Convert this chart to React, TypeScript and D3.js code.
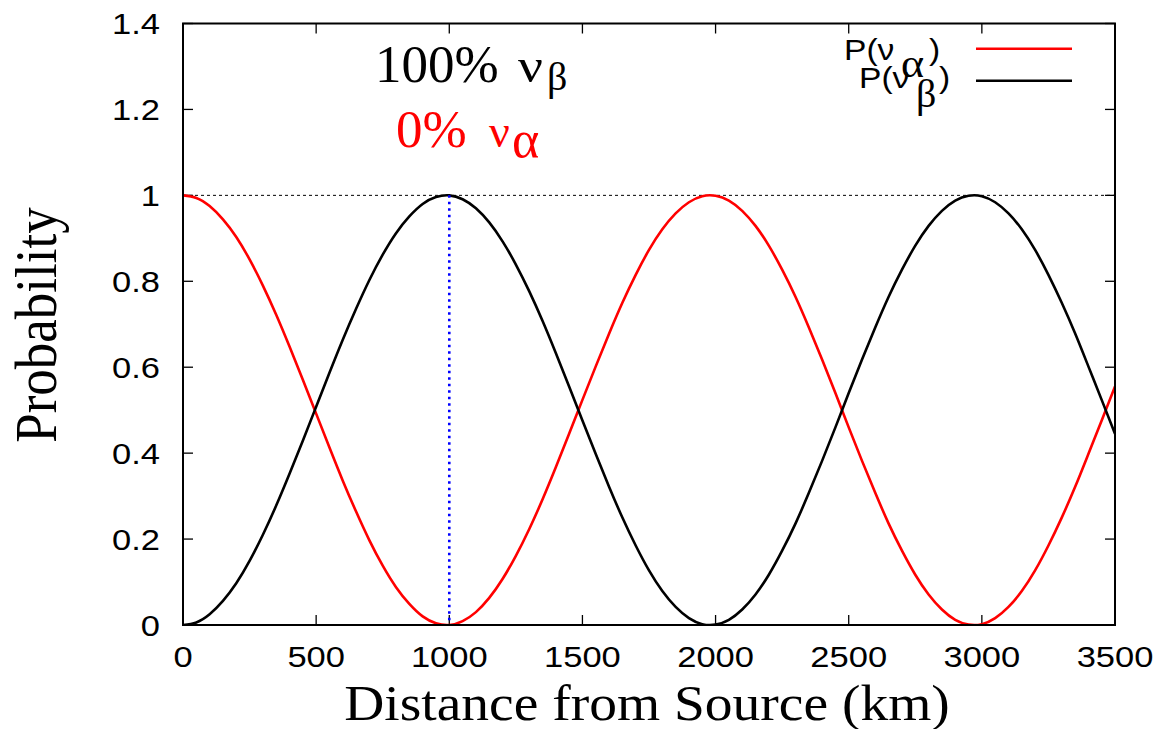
import React from "react";
import * as d3 from "d3";

// Distance from source (km), sampled every 50 km
const distances: number[] = [
  0, 50, 100, 150, 200, 250, 300, 350, 400, 450, 500, 550, 600, 650, 700, 750, 800, 850, 900, 950,
  1000, 1050, 1100, 1150, 1200, 1250, 1300, 1350, 1400, 1450, 1500, 1550, 1600, 1650, 1700, 1750,
  1800, 1850, 1900, 1950, 2000, 2050, 2100, 2150, 2200, 2250, 2300, 2350, 2400, 2450, 2500, 2550,
  2600, 2650, 2700, 2750, 2800, 2850, 2900, 2950, 3000, 3050, 3100, 3150, 3200, 3250, 3300, 3350,
  3400, 3450, 3500,
];
// P(nu_alpha)
const pAlpha: number[] = [
  1.0, 0.994, 0.975, 0.944, 0.903, 0.851, 0.79, 0.722, 0.648, 0.571, 0.492, 0.413, 0.336, 0.264,
  0.197, 0.138, 0.088, 0.049, 0.02, 0.004,
  0.0, 0.009, 0.03, 0.063, 0.107, 0.161, 0.223, 0.292, 0.367, 0.445, 0.524, 0.602, 0.678, 0.75,
  0.815, 0.873, 0.921, 0.958, 0.984, 0.998,
  0.999, 0.988, 0.964, 0.929, 0.883, 0.827, 0.764, 0.693, 0.618, 0.54, 0.46, 0.382, 0.307, 0.236,
  0.173, 0.117, 0.071, 0.036, 0.012, 0.001,
  0.002, 0.016, 0.042, 0.079, 0.127, 0.185, 0.25, 0.321, 0.398, 0.476, 0.555,
];
// P(nu_beta)
const pBeta: number[] = [
  0.0, 0.006, 0.025, 0.056, 0.097, 0.149, 0.21, 0.278, 0.352, 0.429, 0.508, 0.587, 0.664, 0.736,
  0.803, 0.862, 0.912, 0.951, 0.98, 0.996,
  1.0, 0.991, 0.97, 0.937, 0.893, 0.839, 0.777, 0.708, 0.633, 0.555, 0.476, 0.398, 0.322, 0.25,
  0.185, 0.127, 0.079, 0.042, 0.016, 0.002,
  0.001, 0.012, 0.036, 0.071, 0.117, 0.173, 0.236, 0.307, 0.382, 0.46, 0.54, 0.618, 0.693, 0.764,
  0.827, 0.883, 0.929, 0.964, 0.988, 0.999,
  0.998, 0.984, 0.958, 0.921, 0.873, 0.815, 0.75, 0.679, 0.602, 0.524, 0.445,
];
const xTicks: number[] = [0, 500, 1000, 1500, 2000, 2500, 3000, 3500];
const yTicks: number[] = [0, 0.2, 0.4, 0.6, 0.8, 1, 1.2, 1.4];
const markerDistance = 1000;
const referenceLevel = 1;

const W = 1174;
const H = 729;
const L = 183;
const R = 1115;
const T = 23.5;
const B = 625;

const SANS = "'Liberation Sans', Arial, Helvetica, sans-serif";
const SERIF = "'Liberation Serif', 'Times New Roman', serif";

type TProps = {
  x: number;
  y: number;
  sx?: number;
  rot?: number;
  anchor?: "start" | "middle" | "end";
  family: string;
  size: number;
  fill?: string;
  dy?: string;
  children: React.ReactNode;
};

function Txt({ x, y, sx = 1, rot = 0, anchor = "start", family, size, fill = "#000", dy, children }: TProps) {
  return (
    <text
      transform={`translate(${x},${y}) scale(${sx},1)${rot ? ` rotate(${rot})` : ""}`}
      textAnchor={anchor}
      fontFamily={family}
      fontSize={size}
      fill={fill}
      dy={dy}
    >
      {children}
    </text>
  );
}

export default function App() {
  const x = d3.scaleLinear().domain([0, 3500]).range([L, R]);
  const y = d3.scaleLinear().domain([0, 1.4]).range([B, T]);

  const line = (vals: number[]) =>
    d3
      .line<number>()
      .x((_, i) => x(distances[i]))
      .y((v) => y(v))
      .curve(d3.curveNatural)(vals) || "";

  const tickLen = 10;
  const TS = 30;
  const TSX = 1.15;

  return (
    <svg
      width={W}
      height={H}
      style={{ position: "absolute", left: 0, top: 0, background: "#fff" }}
    >
      <defs>
        <clipPath id="plot">
          <rect x={L} y={T} width={R - L} height={B - T} />
        </clipPath>
      </defs>

      {/* reference line at 1 */}
      <line
        x1={L}
        x2={R}
        y1={y(referenceLevel)}
        y2={y(referenceLevel)}
        stroke="#000"
        strokeWidth={1}
        strokeDasharray="3,3"
      />

      {/* ticks */}
      {xTicks.map((t) => (
        <g key={"xt" + t}>
          <line x1={x(t)} x2={x(t)} y1={B} y2={B - tickLen} stroke="#000" strokeWidth={1.3} />
          <line x1={x(t)} x2={x(t)} y1={T} y2={T + tickLen} stroke="#000" strokeWidth={1.3} />
          <Txt x={x(t)} y={667} anchor="middle" family={SANS} size={TS} sx={TSX}>
            {t}
          </Txt>
        </g>
      ))}
      {yTicks.map((t) => (
        <g key={"yt" + t}>
          <line x1={L} x2={L + tickLen} y1={y(t)} y2={y(t)} stroke="#000" strokeWidth={1.3} />
          <line x1={R} x2={R - tickLen} y1={y(t)} y2={y(t)} stroke="#000" strokeWidth={1.3} />
          <Txt x={160} y={y(t)} dy="0.36em" anchor="end" family={SANS} size={TS} sx={TSX}>
            {d3.format("~g")(t)}
          </Txt>
        </g>
      ))}

      {/* curves */}
      <g clipPath="url(#plot)">
        <path d={line(pAlpha)} fill="none" stroke="#ff0000" strokeWidth={2.6} />
        <path d={line(pBeta)} fill="none" stroke="#000" strokeWidth={2.6} />
      </g>

      {/* marker line */}
      <line
        x1={x(markerDistance)}
        x2={x(markerDistance)}
        y1={y(referenceLevel)}
        y2={B}
        stroke="#0000ff"
        strokeWidth={2.6}
        strokeDasharray="2.5,4"
      />

      {/* border */}
      <rect x={L} y={T} width={R - L} height={B - T} fill="none" stroke="#000" strokeWidth={2} />

      {/* legend */}
      <Txt x={844} y={60} family={SANS} size={30} sx={1.12}>
        P(ν
      </Txt>
      <Txt x={901} y={77} family={SERIF} size={40} sx={1.1}>
        α
      </Txt>
      <Txt x={929} y={60} family={SANS} size={30} sx={1.12}>
        )
      </Txt>
      <line x1={976} x2={1072} y1={48.7} y2={48.7} stroke="#ff0000" strokeWidth={2.6} />

      <Txt x={859} y={88} family={SANS} size={30} sx={1.12}>
        P(ν
      </Txt>
      <Txt x={916} y={107} family={SERIF} size={40}>
        β
      </Txt>
      <Txt x={939} y={88} family={SANS} size={30} sx={1.12}>
        )
      </Txt>
      <line x1={976} x2={1072} y1={80.7} y2={80.7} stroke="#000" strokeWidth={2.6} />

      {/* annotations */}
      <Txt x={375} y={82} family={SERIF} size={53}>
        100%
      </Txt>
      <Txt x={518} y={82} family={SERIF} size={48} sx={1.15}>
        ν
      </Txt>
      <Txt x={547} y={90} family={SERIF} size={40}>
        β
      </Txt>
      <Txt x={396} y={147} family={SERIF} size={53} fill="#ff0000">
        0%
      </Txt>
      <Txt x={489} y={147} family={SERIF} size={46} fill="#ff0000">
        ν
      </Txt>
      <Txt x={512} y={157} family={SERIF} size={52} fill="#ff0000">
        α
      </Txt>

      {/* axis titles */}
      <Txt x={647} y={720} anchor="middle" family={SERIF} size={50} sx={1.11}>
        Distance from Source (km)
      </Txt>
      <Txt x={56} y={325} anchor="middle" family={SERIF} size={53} sx={1.12} rot={-90}>
        Probability
      </Txt>
    </svg>
  );
}
